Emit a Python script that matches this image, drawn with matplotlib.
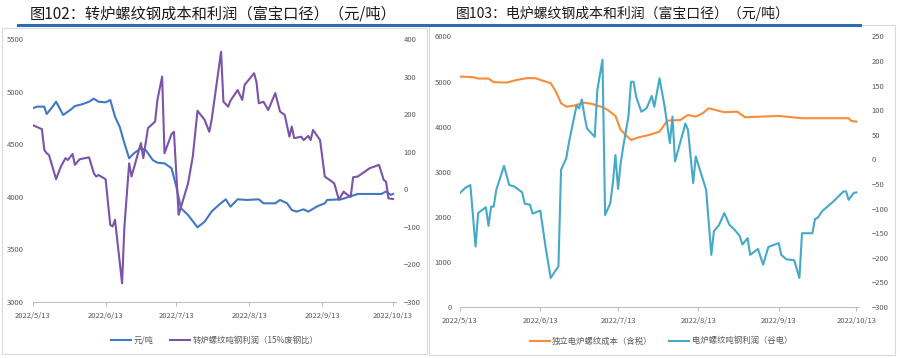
import pandas as pd
import matplotlib
matplotlib.use("Agg")
import matplotlib.pyplot as plt
from matplotlib.lines import Line2D
from matplotlib.patches import Rectangle

plt.rcParams['font.family'] = ['Noto Sans CJK SC', 'DejaVu Sans']

# ---- 图102 转炉 ----
bof_cost_dates = ["2022-05-13", "2022-05-15", "2022-05-18", "2022-05-19", "2022-05-21", "2022-05-23",
                  "2022-05-26", "2022-05-29", "2022-05-31", "2022-06-03", "2022-06-06", "2022-06-08",
                  "2022-06-10", "2022-06-13", "2022-06-15", "2022-06-17", "2022-06-19", "2022-06-21",
                  "2022-06-23", "2022-06-25", "2022-06-28", "2022-06-30", "2022-07-03", "2022-07-05",
                  "2022-07-08", "2022-07-11", "2022-07-13", "2022-07-15", "2022-07-18", "2022-07-22",
                  "2022-07-25", "2022-07-28", "2022-07-31", "2022-08-03", "2022-08-05", "2022-08-08",
                  "2022-08-12", "2022-08-17", "2022-08-19", "2022-08-24", "2022-08-26", "2022-08-29",
                  "2022-08-31", "2022-09-02", "2022-09-05", "2022-09-07", "2022-09-11", "2022-09-14",
                  "2022-09-15", "2022-09-21", "2022-09-28", "2022-10-08", "2022-10-10", "2022-10-12",
                  "2022-10-13"]
bof_cost = [4841, 4857, 4857, 4787, 4841, 4904,
            4778, 4825, 4863, 4879, 4904, 4933,
            4904, 4898, 4920, 4762, 4666, 4508,
            4366, 4413, 4461, 4445, 4350, 4324,
            4318, 4271, 4096, 3891, 3827, 3710,
            3763, 3860, 3922, 3976, 3906, 3976,
            3970, 3976, 3938, 3938, 3970, 3938,
            3875, 3859, 3881, 3859, 3912, 3938,
            3970, 3976, 4027, 4027, 4050, 4018,
            4027]

bof_profit_dates = ["2022-05-13", "2022-05-17", "2022-05-18", "2022-05-19", "2022-05-20", "2022-05-23",
                    "2022-05-25", "2022-05-27", "2022-05-28", "2022-05-30", "2022-05-31", "2022-06-02",
                    "2022-06-06", "2022-06-08", "2022-06-09", "2022-06-10", "2022-06-13", "2022-06-15",
                    "2022-06-16", "2022-06-17", "2022-06-20", "2022-06-21", "2022-06-23", "2022-06-24",
                    "2022-06-28", "2022-06-29", "2022-07-01", "2022-07-04", "2022-07-05", "2022-07-07",
                    "2022-07-08", "2022-07-11", "2022-07-12", "2022-07-14", "2022-07-18", "2022-07-20",
                    "2022-07-22", "2022-07-25", "2022-07-27", "2022-07-28", "2022-08-01", "2022-08-02",
                    "2022-08-04", "2022-08-05", "2022-08-08", "2022-08-10", "2022-08-11", "2022-08-15",
                    "2022-08-16", "2022-08-17", "2022-08-19", "2022-08-21", "2022-08-24", "2022-08-26",
                    "2022-08-28", "2022-08-30", "2022-08-31", "2022-09-01", "2022-09-04", "2022-09-05",
                    "2022-09-07", "2022-09-08", "2022-09-09", "2022-09-12", "2022-09-14", "2022-09-16",
                    "2022-09-18", "2022-09-20", "2022-09-22", "2022-09-23", "2022-09-25", "2022-09-26",
                    "2022-09-28", "2022-10-01", "2022-10-03", "2022-10-07", "2022-10-09", "2022-10-10",
                    "2022-10-11", "2022-10-13"]
bof_profit = [171, 160, 105, 96, 91, 27,
              60, 83, 78, 94, 65, 80,
              85, 43, 34, 38, 27, -95,
              -99, -81, -250, -99, 69, 34,
              123, 83, 163, 180, 238, 300,
              96, 147, 153, -68, 16, 87,
              209, 185, 153, 185, 366, 233,
              220, 236, 264, 238, 278, 309,
              286, 229, 233, 211, 256, 207,
              198, 140, 167, 136, 140, 131,
              142, 131, 158, 131, 34, 25,
              16, -28, -6, -12, -20, 32,
              34, 47, 56, 65, 25, 20,
              -24, -26]

# ---- 图103 电炉 ----
eaf_cost_dates = ["2022-05-13", "2022-05-18", "2022-05-20", "2022-05-24", "2022-05-26", "2022-05-31",
                  "2022-06-04", "2022-06-08", "2022-06-11", "2022-06-15", "2022-06-17", "2022-06-19",
                  "2022-06-21", "2022-06-23", "2022-06-26", "2022-06-30", "2022-07-03", "2022-07-07",
                  "2022-07-09", "2022-07-12", "2022-07-14", "2022-07-18", "2022-07-21", "2022-07-25",
                  "2022-07-29", "2022-08-01", "2022-08-06", "2022-08-09", "2022-08-12", "2022-08-15",
                  "2022-08-17", "2022-08-23", "2022-08-28", "2022-08-31", "2022-09-06", "2022-09-13",
                  "2022-09-22", "2022-10-10", "2022-10-11", "2022-10-13"]
eaf_cost = [5111, 5098, 5067, 5067, 4987, 4978,
            5038, 5076, 5076, 5000, 4964, 4778,
            4520, 4444, 4467, 4533, 4504, 4431,
            4371, 4238, 3927, 3704, 3764, 3816,
            3889, 4133, 4149, 4260, 4222, 4311,
            4409, 4320, 4333, 4209, 4222, 4238,
            4187, 4187, 4127, 4111]

eaf_profit_dates = ["2022-05-13", "2022-05-15", "2022-05-17", "2022-05-19", "2022-05-20", "2022-05-23",
                    "2022-05-24", "2022-05-25", "2022-05-26", "2022-05-27", "2022-05-30", "2022-06-01",
                    "2022-06-03", "2022-06-06", "2022-06-07", "2022-06-09", "2022-06-10", "2022-06-13",
                    "2022-06-15", "2022-06-17", "2022-06-20", "2022-06-21", "2022-06-23", "2022-06-24",
                    "2022-06-27", "2022-06-28", "2022-06-29", "2022-06-30", "2022-07-01", "2022-07-04",
                    "2022-07-05", "2022-07-07", "2022-07-08", "2022-07-10", "2022-07-11", "2022-07-12",
                    "2022-07-13", "2022-07-14", "2022-07-15", "2022-07-17", "2022-07-18", "2022-07-19",
                    "2022-07-20", "2022-07-22", "2022-07-24", "2022-07-26", "2022-07-27", "2022-07-29",
                    "2022-07-31", "2022-08-02", "2022-08-03", "2022-08-04", "2022-08-08", "2022-08-09",
                    "2022-08-11", "2022-08-12", "2022-08-14", "2022-08-16", "2022-08-18", "2022-08-19",
                    "2022-08-21", "2022-08-23", "2022-08-25", "2022-08-27", "2022-08-29", "2022-08-30",
                    "2022-09-01", "2022-09-02", "2022-09-05", "2022-09-07", "2022-09-09", "2022-09-13",
                    "2022-09-14", "2022-09-16", "2022-09-19", "2022-09-21", "2022-09-22", "2022-09-26",
                    "2022-09-27", "2022-09-28", "2022-09-30", "2022-10-04", "2022-10-08", "2022-10-09",
                    "2022-10-10", "2022-10-12", "2022-10-13"]
eaf_profit = [-68, -58, -52, -177, -109, -97,
              -135, -96, -96, -62, -13, -52,
              -55, -67, -90, -92, -110, -104,
              -177, -241, -217, -21, 2, 33,
              110, 104, 122, 90, 63, 46,
              141, 203, -113, -89, -48, 9,
              -60, -8, 26, 87, 158, 158,
              127, 97, 104, 129, 107, 165,
              107, 33, 87, -4, 73, 60,
              -48, 6, -28, -62, -194, -146,
              -133, -109, -133, -143, -156, -173,
              -160, -194, -182, -214, -178, -170,
              -194, -203, -205, -241, -150, -150,
              -121, -119, -104, -86, -65, -65,
              -82, -68, -67]

tick_dates = ["2022-05-13", "2022-06-13", "2022-07-13", "2022-08-13", "2022-09-13", "2022-10-13"]
tick_labels = ["2022/5/13", "2022/6/13", "2022/7/13", "2022/8/13", "2022/9/13", "2022/10/13"]

c_blue = '#4178C2'
c_purple = '#7B53A8'
c_orange = '#F98C3A'
c_cyan = '#45A9C8'
tc = '#595959'
fs_tick = 5.5

fig = plt.figure(figsize=(9, 3.58), dpi=100)

# panel frames & title underline
fig.add_artist(Rectangle((2/900, 1-354/358), 425/900, 326/358, transform=fig.transFigure,
                         fill=False, edgecolor='#D9D9D9', linewidth=0.8))
fig.add_artist(Rectangle((429/900, 1-355/358), 466/900, 330/358, transform=fig.transFigure,
                         fill=False, edgecolor='#D9D9D9', linewidth=0.8))
fig.add_artist(Line2D([18/900, 860/900], [1-24.5/358, 1-24.5/358], transform=fig.transFigure,
                      color='#2E6BB5', linewidth=2.2))

fig.text(30/900, 1-14/358, "图102：转炉螺纹钢成本和利润（富宝口径）（元/吨）",
         fontsize=11, va='center', ha='left', color='#1a1a1a')
fig.text(456/900, 1-13/358, "图103：电炉螺纹钢成本和利润（富宝口径）（元/吨）",
         fontsize=10, va='center', ha='left', color='#1a1a1a')


def style_axes(ax, ax2, start, end):
    for a in (ax, ax2):
        for s in ['top', 'left', 'right', 'bottom']:
            a.spines[s].set_visible(False)
        a.tick_params(axis='y', length=0, labelsize=fs_tick, labelcolor=tc)
    ax.spines['bottom'].set_visible(True)
    ax.spines['bottom'].set_color('#BFBFBF')
    ax.spines['bottom'].set_linewidth(0.8)
    ax.set_xticks(pd.to_datetime(tick_dates))
    ax.set_xticklabels(tick_labels)
    ax.tick_params(axis='x', length=3, color='#BFBFBF', labelsize=fs_tick, labelcolor=tc, pad=4)
    ax.set_xlim(pd.Timestamp(start), pd.Timestamp(end))


def add_legend(ax, ax2, cx, cy):
    h1, l1 = ax.get_legend_handles_labels()
    h2, l2 = ax2.get_legend_handles_labels()
    ax.legend(h1 + h2, l1 + l2, loc='center', bbox_to_anchor=(cx/900, 1-cy/358),
              bbox_transform=fig.transFigure, ncol=2, frameon=False, fontsize=6,
              handlelength=2.4, handletextpad=0.3, columnspacing=2.0, labelcolor=tc)


# left panel
axL = fig.add_axes([32.5/900, 1-302/358, 363/900, 263/358])
axL2 = axL.twinx()
axL.plot(pd.to_datetime(bof_cost_dates), bof_cost, color=c_blue, lw=1.5, label='元/吨')
axL2.plot(pd.to_datetime(bof_profit_dates), bof_profit, color=c_purple, lw=1.5,
          label='转炉螺纹吨钢利润（15%废钢比）')
axL.set_ylim(3000, 5500)
axL.set_yticks(range(3000, 5501, 500))
axL2.set_ylim(-300, 400)
axL2.set_yticks(range(-300, 401, 100))
style_axes(axL, axL2, "2022-05-13", "2022-10-14")
axL.tick_params(axis='y', pad=6)
axL2.tick_params(axis='y', pad=6)
add_legend(axL, axL2, 215, 340)

# right panel
axR = fig.add_axes([460/900, 1-307/358, 399/900, 270.5/358])
axR2 = axR.twinx()
axR.plot(pd.to_datetime(eaf_cost_dates), eaf_cost, color=c_orange, lw=1.5, label='独立电炉螺纹成本（含税）')
axR2.plot(pd.to_datetime(eaf_profit_dates), eaf_profit, color=c_cyan, lw=1.5,
          label='电炉螺纹吨钢利润（谷电）')
axR.set_ylim(0, 6000)
axR.set_yticks(range(0, 6001, 1000))
axR2.set_ylim(-300, 250)
axR2.set_yticks(range(-300, 251, 50))
style_axes(axR, axR2, "2022-05-13", "2022-10-14")
axR.tick_params(axis='y', pad=6)
axR2.tick_params(axis='y', pad=9)
add_legend(axR, axR2, 661, 341)

fig.savefig("out.png", dpi=100)
